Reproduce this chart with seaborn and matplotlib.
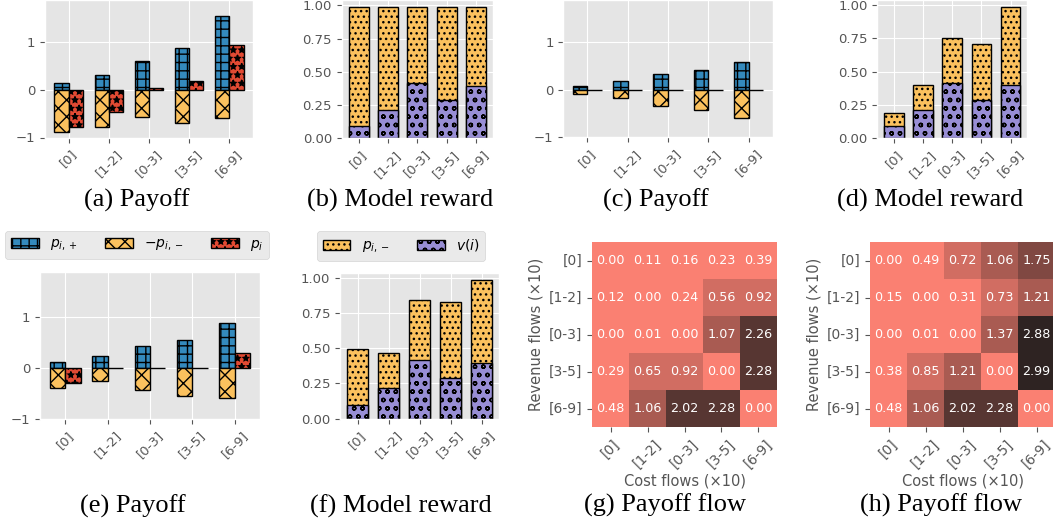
import numpy as np
import matplotlib
matplotlib.use("Agg")
import matplotlib.pyplot as plt
import seaborn as sns

plt.style.use("ggplot")
plt.rcParams["font.family"] = ["DejaVu Sans"]

categories = ["[0]", "[1-2]", "[0-3]", "[3-5]", "[6-9]"]

# scenario 1: panels (a) and (b)
p_plus_1 = [0.14, 0.31, 0.61, 0.87, 1.54]
p_minus_1 = [0.895, 0.775, 0.572, 0.702, 0.592]
p_net_1 = [-0.77, -0.47, 0.03, 0.19, 0.94]
# scenario 2: panels (c) and (d)
p_plus_2 = [0.085, 0.19, 0.335, 0.41, 0.585]
p_minus_2 = [0.095, 0.185, 0.34, 0.42, 0.59]
p_net_2 = [0.0, 0.0, 0.0, 0.0, 0.0]
# scenario 3: panels (e) and (f)
p_plus_3 = [0.105, 0.24, 0.425, 0.55, 0.88]
p_minus_3 = [0.40, 0.25, 0.43, 0.545, 0.585]
p_net_3 = [-0.30, 0.0, 0.0, 0.0, 0.295]
# model value v(i)
v_i = [0.094, 0.215, 0.413, 0.285, 0.396]

# payoff flows (rows: revenue flows, cols: cost flows)
flow_g = [[0.00, 0.11, 0.16, 0.23, 0.39],
          [0.12, 0.00, 0.24, 0.56, 0.92],
          [0.00, 0.01, 0.00, 1.07, 2.26],
          [0.29, 0.65, 0.92, 0.00, 2.28],
          [0.48, 1.06, 2.02, 2.28, 0.00]]
flow_h = [[0.00, 0.49, 0.72, 1.06, 1.75],
          [0.15, 0.00, 0.31, 0.73, 1.21],
          [0.00, 0.01, 0.00, 1.37, 2.88],
          [0.38, 0.85, 1.21, 0.00, 2.99],
          [0.48, 1.06, 2.02, 2.28, 0.00]]

captions = ["(a) Payoff", "(b) Model reward", "(c) Payoff", "(d) Model reward",
            "(e) Payoff", "(f) Model reward", "(g) Payoff flow", "(h) Payoff flow"]

BLUE, RED, YELLOW, PURPLE = "#348ABD", "#E24A33", "#FBC15E", "#988ED5"
W, H = 1053, 525
fig = plt.figure(figsize=(W / 100, H / 100), dpi=100)


def add_ax(x0, y0, x1, y1):
    return fig.add_axes([x0 / W, 1 - y1 / H, (x1 - x0) / W, (y1 - y0) / H])


BW = 0.36


def payoff(ax, p_plus, p_minus, p_net):
    idx = np.arange(len(categories))
    kw = dict(native_scale=True, width=BW, saturation=1, edgecolor="black",
              linewidth=1, errorbar=None, ax=ax, orient="x")
    sns.barplot(x=idx - BW / 2, y=p_plus, color=BLUE, hatch="++", **kw)
    sns.barplot(x=idx - BW / 2, y=-np.array(p_minus), color=YELLOW, hatch="xx", **kw)
    sns.barplot(x=idx + BW / 2, y=p_net, color=RED, hatch="**", **kw)
    ax.autoscale(enable=True, axis="x")
    ax.set_xticks(idx)
    ax.set_xticklabels(categories, rotation=45)
    ax.set_ylim(-1, 1.88)
    ax.set_yticks([-1, 0, 1])
    ax.grid(True)
    ax.set_xlabel("")
    ax.set_ylabel("")
    ax.tick_params(labelsize=9.5)


def reward(ax, p_minus):
    total = np.array(v_i) + np.array(p_minus)
    kw = dict(width=0.68, saturation=1, edgecolor="black", linewidth=1,
              errorbar=None, ax=ax)
    sns.barplot(x=categories, y=total, color=YELLOW, hatch="...", **kw)
    sns.barplot(x=categories, y=v_i, color=PURPLE, hatch="oo", **kw)
    ax.autoscale(enable=True, axis="x")
    ax.set_xticks(range(len(categories)))
    ax.set_xticklabels(categories, rotation=45)
    ax.set_yticks([0, 0.25, 0.5, 0.75, 1.0])
    ax.grid(True)
    ax.set_xlabel("")
    ax.set_ylabel("")
    ax.tick_params(labelsize=9.5)


ax_a = add_ax(45, 0, 253, 137.5)
ax_b = add_ax(341.7, 0, 492.7, 138.3)
ax_c = add_ax(563.3, 0, 772.7, 137.3)
ax_d = add_ax(877.3, 0, 1027.3, 138.3)
ax_e = add_ax(40, 271.7, 260, 419)
ax_f = add_ax(340, 273.3, 499.3, 418.7)
ax_g = add_ax(592, 242, 777, 427)
ax_h = add_ax(870, 242, 1055, 427)

payoff(ax_a, p_plus_1, p_minus_1, p_net_1)
reward(ax_b, p_minus_1)
payoff(ax_c, p_plus_2, p_minus_2, p_net_2)
reward(ax_d, p_minus_2)
payoff(ax_e, p_plus_3, p_minus_3, p_net_3)
reward(ax_f, p_minus_3)

cmap = sns.dark_palette("salmon", 6, reverse=True)
for ax, data in [(ax_g, flow_g), (ax_h, flow_h)]:
    sns.heatmap(np.array(data), ax=ax, cmap=cmap, vmin=0, vmax=3, cbar=False,
                annot=True, fmt=".2f", annot_kws={"color": "white", "fontsize": 9.2},
                xticklabels=categories, yticklabels=categories, square=False)
    ax.set_xticklabels(categories, rotation=45, fontsize=10)
    ax.set_yticklabels(categories, rotation=0, fontsize=10)
    ax.set_xlabel("Cost flows (\u00d710)", fontsize=10.5, color="#555555", labelpad=2)
    ax.set_ylabel("Revenue flows (\u00d710)", fontsize=10.5, color="#555555")

leg_e = ax_e.legend(handles=ax_e.containers[:3],
                    labels=[r"$p_{i,+}$", r"$-p_{i,-}$", r"$p_i$"],
                    ncol=3, fontsize=10, loc="center",
                    bbox_to_anchor=(137 / W, 1 - 245 / H), bbox_transform=fig.transFigure)
leg_f = ax_f.legend(handles=ax_f.containers[:2],
                    labels=[r"$p_{i,-}$", r"$v(i)$"],
                    ncol=2, fontsize=10, loc="center",
                    bbox_to_anchor=(401 / W, 1 - 246 / H), bbox_transform=fig.transFigure)

cap_pos = [(136.7, 207), (400, 207), (656, 207), (930, 207),
           (133, 513), (400.7, 513), (665, 512), (941, 512)]
for (cx, cy), text in zip(cap_pos, captions):
    fig.text(cx / W, 1 - cy / H, text, ha="center", va="baseline",
             fontfamily="Liberation Serif", fontsize=19, color="black")

fig.savefig("out.png", dpi=100)
